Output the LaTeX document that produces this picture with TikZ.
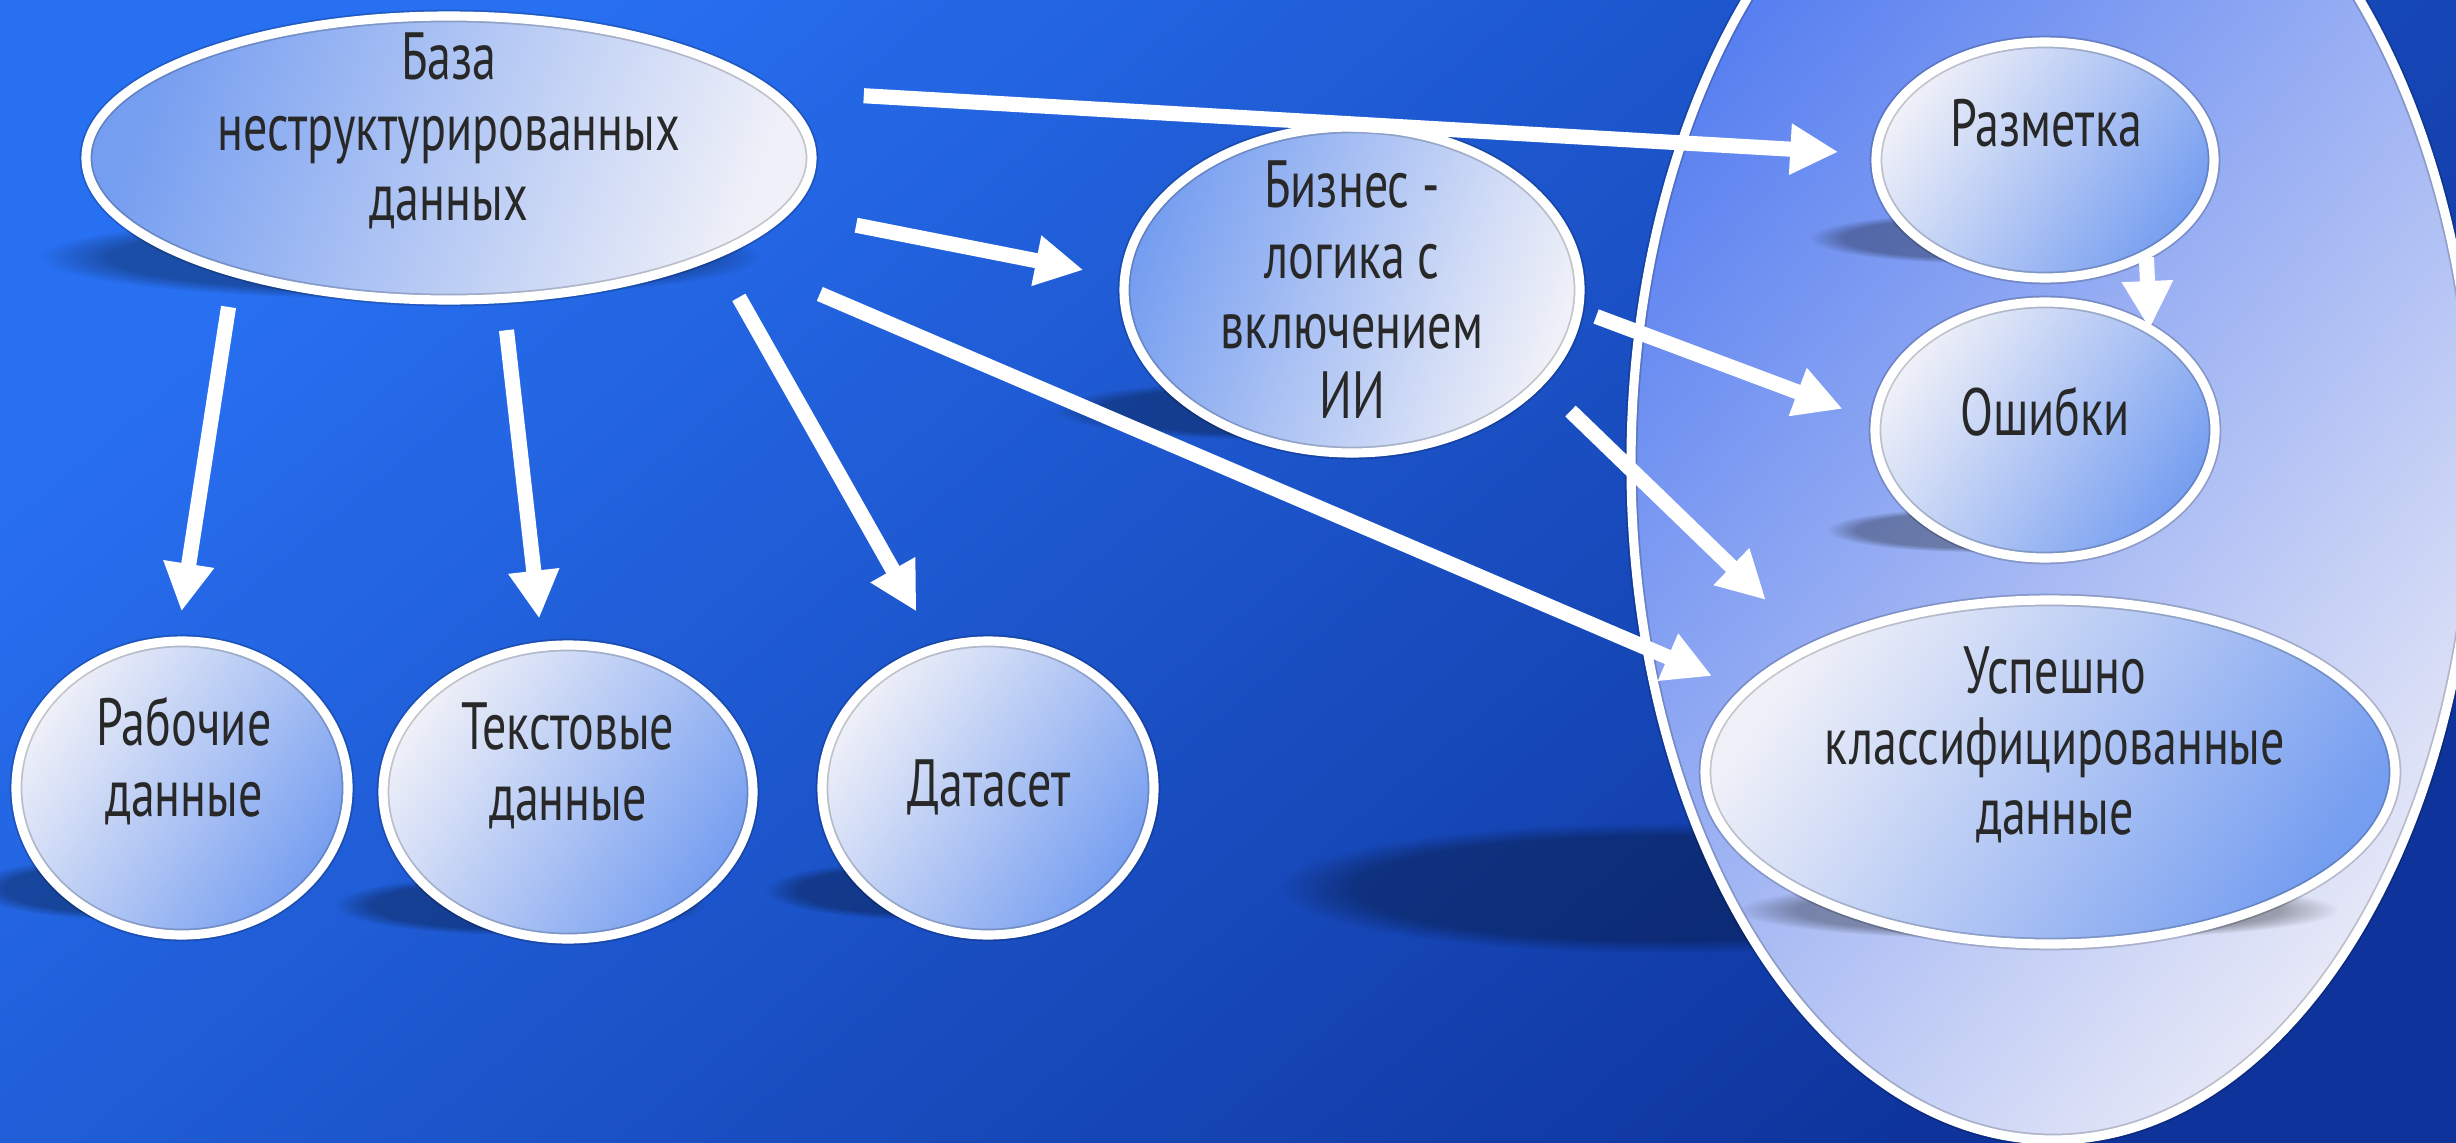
\documentclass[tikz,border=0pt]{standalone}
\usepackage{fontspec}
\setmainfont{PT Sans}[FakeStretch=0.72]
\usetikzlibrary{positioning,fadings,shapes.geometric,arrows.meta}

\definecolor{bgtop}{RGB}{40,112,242}
\definecolor{bgbot}{RGB}{14,52,156}
\definecolor{bubblue}{RGB}{118,158,240}
\definecolor{bubwhite}{RGB}{240,241,248}
\definecolor{bigblue}{RGB}{86,126,240}
\definecolor{bigwhite}{RGB}{230,232,247}
\definecolor{ink}{RGB}{40,40,40}

\tikzset{
  bubble/.style={ellipse, inner sep=0pt, outer sep=0pt,
    postaction={draw=black, draw opacity=0.18, line width=3.6pt},
    postaction={draw=white, line width=2.6pt}},
  blueleft/.style={top color=bubblue, bottom color=bubwhite, shading angle=70},
  whiteleft/.style={top color=bubwhite, bottom color=bubblue, shading angle=55},
  lbl/.style={align=center, text=ink, font=\fontsize{19}{20}\selectfont, inner sep=0pt},
  drop/.style={fill=black, fill opacity=0.3, path fading=circle with fuzzy edge 20 percent},
  arr/.style={draw=white, line width=4.3pt, -{Triangle[length=0.48cm, width=0.48cm]}}
}

\begin{document}
\begin{tikzpicture}
      \clip (0,0) rectangle (24.56,-11.43);
      \shade[top color=bgtop, bottom color=bgbot, shading angle=40] (0,0) rectangle (24.56,-11.43);
      % shadows under the bubbles
      \fill[drop] (4.00,-2.57) ellipse (3.6 and 0.42);
      \fill[drop] (12.87,-4.10) ellipse (2.33 and 0.30);
      \fill[drop] (1.40,-8.88) ellipse (1.7 and 0.32);
      \fill[drop] (5.20,-9.05) ellipse (1.85 and 0.30);
      \fill[drop] (9.30,-8.90) ellipse (1.65 and 0.30);
      \fill[drop] (16.60,-8.88) ellipse (3.8 and 0.65);
      \node[bubble, top color=bigblue, bottom color=bigwhite, shading angle=50, minimum width=8.44cm, minimum height=13.52cm] at (20.53,-4.64) (grp) {};
      \fill[drop] (19.80,-2.38) ellipse (1.7 and 0.25);
      \fill[drop] (19.77,-5.30) ellipse (1.5 and 0.22);
      \fill[drop] (20.38,-9.10) ellipse (3.0 and 0.30);
      % bubbles
      \node[bubble, blueleft, minimum width=7.26cm, minimum height=2.84cm] at (4.49,-1.58) (db) {};
      \node[bubble, blueleft, minimum width=4.56cm, minimum height=3.26cm] at (13.52,-2.90) (biz) {};
      \node[bubble, whiteleft, minimum width=3.38cm, minimum height=2.36cm] at (20.45,-1.60) (mark) {};
      \node[bubble, whiteleft, minimum width=3.40cm, minimum height=2.56cm] at (20.45,-4.30) (err) {};
      \node[bubble, whiteleft, minimum width=6.90cm, minimum height=3.44cm] at (20.50,-7.72) (ok) {};
      \node[bubble, whiteleft, minimum width=3.32cm, minimum height=2.94cm] at (1.82,-7.88) (work) {};
      \node[bubble, whiteleft, minimum width=3.70cm, minimum height=2.94cm] at (5.68,-7.92) (txt) {};
      \node[bubble, whiteleft, minimum width=3.32cm, minimum height=2.94cm] at (9.88,-7.88) (ds) {};
      % texts
      \node[lbl] at (4.49,-1.31) (dbL) {База\\неструктурированных\\данных};
      \node[lbl] at (13.52,-2.90) (bizL) {Бизнес -\\логика с\\включением\\ИИ};
      \node[lbl] at (20.46,-1.23) (markL) {Разметка};
      \node[lbl] at (20.45,-4.12) (errL) {Ошибки};
      \node[lbl] at (20.55,-7.45) (okL) {Успешно\\классифицированные\\данные};
      \node[lbl] at (1.84,-7.61) (workL) {Рабочие\\данные};
      \node[lbl] at (5.68,-7.66) (txtL) {Текстовые\\данные};
      \node[lbl] at (9.89,-7.87) (dsL) {Датасет};
      % arrows
      \draw[arr, shorten <=0.96cm, shorten >=0.38cm] (db.12.4) -- (mark.178.1);
      \draw[arr, shorten <=0.72cm, shorten >=0.42cm] (db.-9.7) -- (biz.177.2);
      \draw[arr, shorten <=1.07cm, shorten >=0.37cm] (db.-19.2) -- (ok.165.9);
      \draw[arr, shorten <=0.35cm, shorten >=0.30cm] (db.-152.3) -- (work.92.5);
      \draw[arr, shorten <=0.32cm, shorten >=0.28cm] (db.-69.6) -- (txt.100.4);
      \draw[arr, shorten <=0.49cm, shorten >=0.42cm] (db.-20.3) -- (ds.110.6);
      \draw[arr, shorten <=0.19cm, shorten >=0.35cm] (biz.-5.3) -- (err.177.8);
      \draw[arr, shorten <=0.42cm, shorten >=0.67cm] (biz.-26.8) -- (ok.152.8);
      \draw[arr, shorten <=0.03cm] (mark.-43.1) -- (err.44.9);
\end{tikzpicture}
\end{document}
